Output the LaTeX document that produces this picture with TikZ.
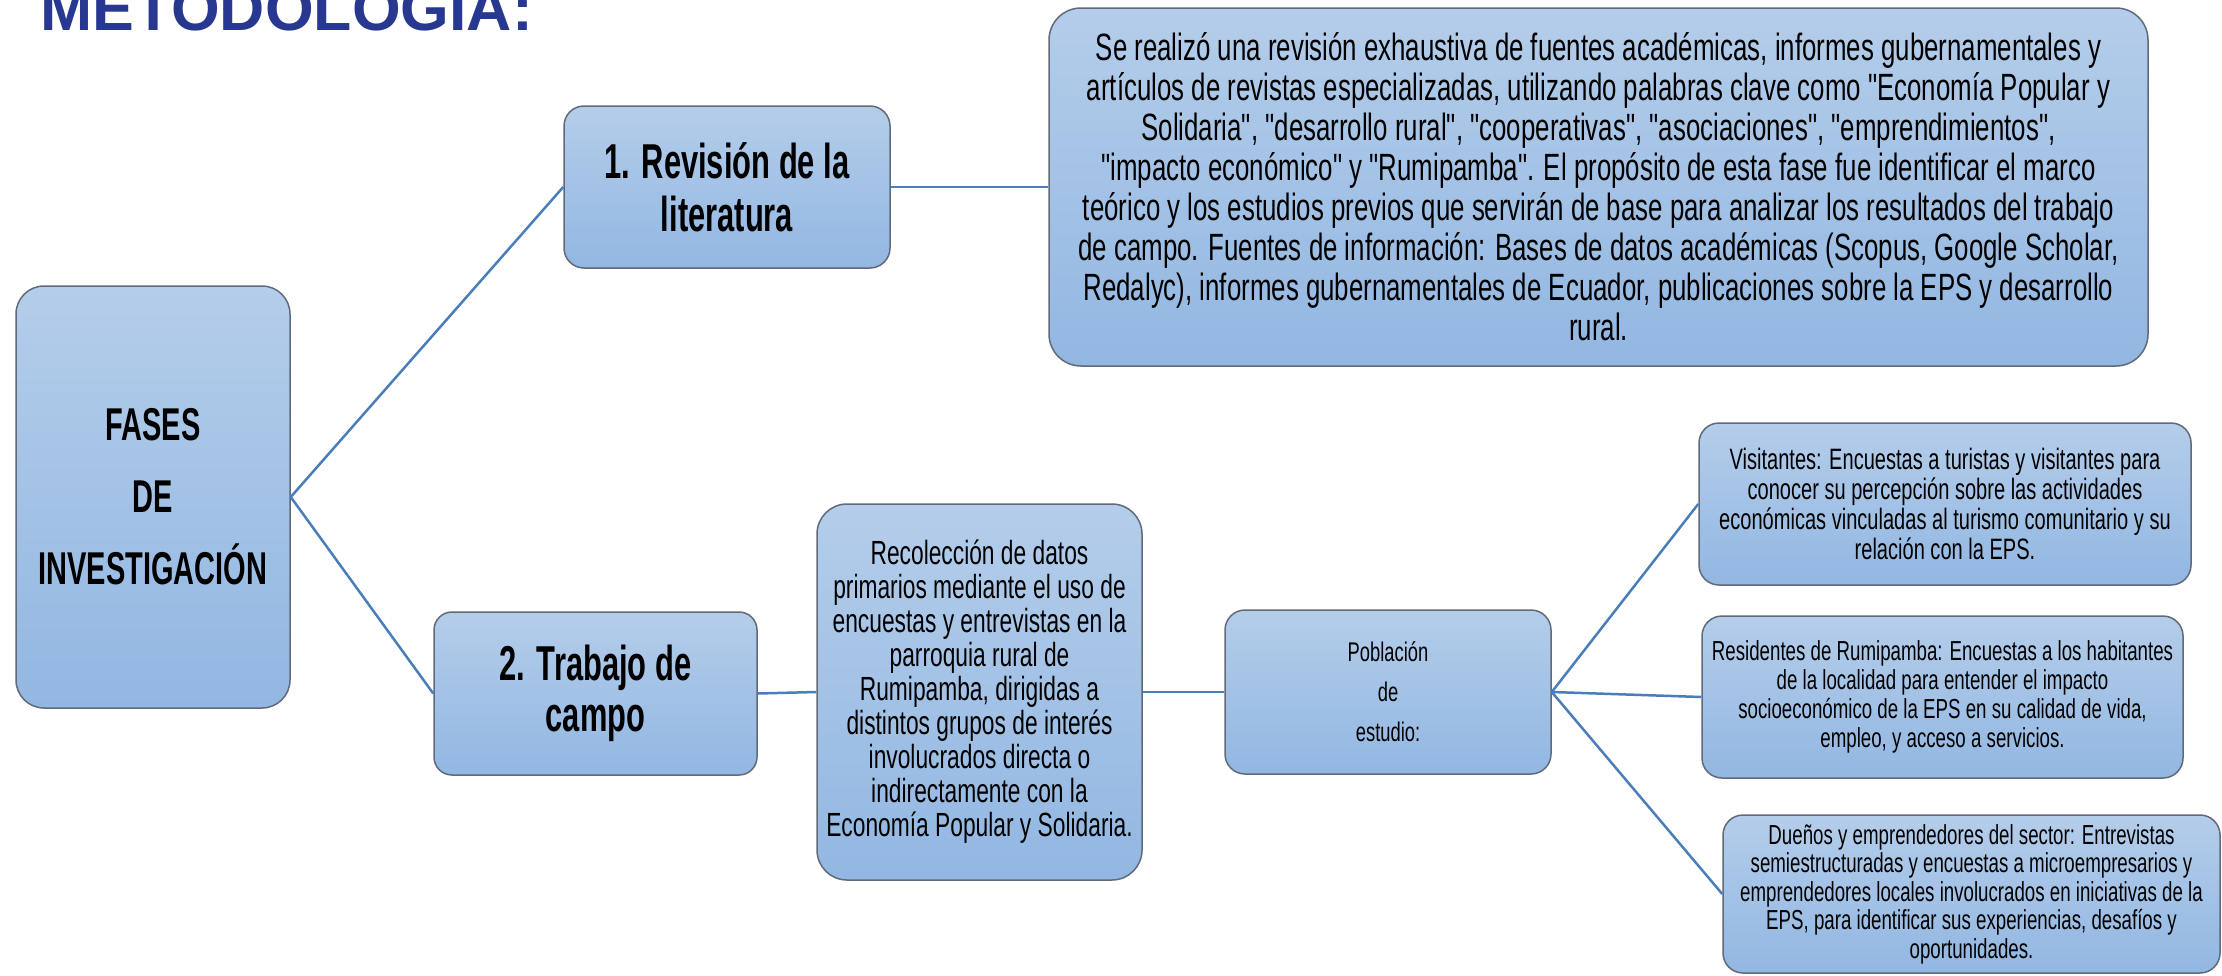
\documentclass[tikz,border=0pt]{standalone}
\usepackage{fontspec}
\usepackage{tikz}
\usepackage{xcolor}
\usetikzlibrary{positioning}
\setmainfont{Liberation Sans}
\newfontfamily\agency{Liberation Sans}[FakeStretch=0.68]
\newfontfamily\agencybold{Liberation Sans}[FakeStretch=0.63]
\definecolor{cajaarriba}{RGB}{180,205,234}
\definecolor{cajaabajo}{RGB}{146,183,226}
\definecolor{borde}{RGB}{96,106,122}
\definecolor{enlace}{RGB}{74,126,187}
\definecolor{titulo}{RGB}{40,56,145}

\begin{document}
\begin{tikzpicture}[x=1pt, y=-1pt,
    caja/.style={draw=borde, line width=1.5pt, top color=cajaarriba, bottom color=cajaabajo,
        rounded corners=#1, inner sep=0pt, align=center},
    caja/.default=20pt,
    rama/.style={draw=enlace, line width=2.5pt}]
            \useasboundingbox (0,0) rectangle (2222,975);
            \node[anchor=base west, inner sep=0pt, text=titulo,
                font={\fontsize{62.6}{70}\selectfont\bfseries}] (titulo) at (40,30) {METODOLOGÍA:};
            \node[caja=28pt, minimum width=274pt, minimum height=422pt,
                font={\agencybold\bfseries\fontsize{46}{72}\selectfont}] (fases) at (153,497)
                {FASES\\DE\\INVESTIGACIÓN};
            \node[caja=20pt, minimum width=326pt, minimum height=162pt,
                font={\agencybold\bfseries\fontsize{49}{53}\selectfont}] (revision) at (727,187)
                {1. Revisión de la\\literatura};
            \node[caja=32pt, minimum width=1099pt, minimum height=358pt,
                font={\agency\fontsize{38}{40}\selectfont}] (fuentes) at (1598.5,187)
                {Se realizó una revisión exhaustiva de fuentes académicas, informes gubernamentales y\\
                artículos de revistas especializadas, utilizando palabras clave como "Economía Popular y\\
                Solidaria", "desarrollo rural", "cooperativas", "asociaciones", "emprendimientos",\\
                "impacto económico" y "Rumipamba". El propósito de esta fase fue identificar el marco\\
                teórico y los estudios previos que servirán de base para analizar los resultados del trabajo\\
                de campo. Fuentes de información: Bases de datos académicas (Scopus, Google Scholar,\\
                Redalyc), informes gubernamentales de Ecuador, publicaciones sobre la EPS y desarrollo\\
                rural.};
            \node[caja=18pt, minimum width=323pt, minimum height=163pt,
                font={\agencybold\bfseries\fontsize{49}{51}\selectfont}] (campo) at (595.5,693.5)
                {2. Trabajo de\\campo};
            \node[caja=30pt, minimum width=325pt, minimum height=376pt,
                font={\agency\fontsize{33.5}{34}\selectfont}] (datos) at (979.5,692)
                {Recolección de datos\\
                primarios mediante el uso de\\
                encuestas y entrevistas en la\\
                parroquia rural de\\
                Rumipamba, dirigidas a\\
                distintos grupos de interés\\
                involucrados directa o\\
                indirectamente con la\\
                Economía Popular y Solidaria.};
            \node[caja=20pt, minimum width=326pt, minimum height=164pt,
                font={\agency\fontsize{27}{40}\selectfont}] (poblacion) at (1388,692)
                {Población\\de\\estudio:};
            \node[caja=20pt, minimum width=492pt, minimum height=162pt,
                font={\agency\fontsize{29.5}{30}\selectfont}] (visitantes) at (1945,504)
                {Visitantes: Encuestas a turistas y visitantes para\\
                conocer su percepción sobre las actividades\\
                económicas vinculadas al turismo comunitario y su\\
                relación con la EPS.};
            \node[caja=20pt, minimum width=481pt, minimum height=162pt,
                font={\agency\fontsize{27.5}{29}\selectfont}] (residentes) at (1942.5,697)
                {Residentes de Rumipamba: Encuestas a los habitantes\\
                de la localidad para entender el impacto\\
                socioeconómico de la EPS en su calidad de vida,\\
                empleo, y acceso a servicios.};
            \node[caja=20pt, minimum width=497pt, minimum height=158pt,
                font={\agency\fontsize{27.5}{28.5}\selectfont}] (duenos) at (1971.5,894)
                {Dueños y emprendedores del sector: Entrevistas\\
                semiestructuradas y encuestas a microempresarios y\\
                emprendedores locales involucrados en iniciativas de la\\
                EPS, para identificar sus experiencias, desafíos y\\
                oportunidades.};
            \draw[rama] (fases.east) -- (revision.west);
            \draw[rama] (fases.east) -- (campo.west);
            \draw[rama] (revision.east) -- (fuentes.west);
            \draw[rama] (campo.east) -- (datos.west);
            \draw[rama] (datos.east) -- (poblacion.west);
            \draw[rama] (poblacion.east) -- (visitantes.west);
            \draw[rama] (poblacion.east) -- (residentes.west);
            \draw[rama] (poblacion.east) -- (duenos.west);
        \end{tikzpicture}
\end{document}
